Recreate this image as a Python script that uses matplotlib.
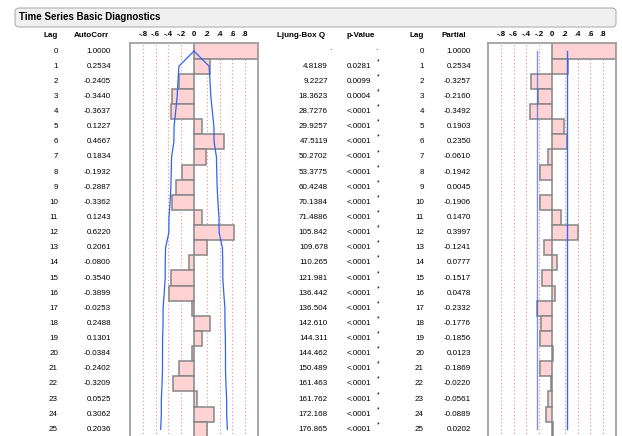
import matplotlib
matplotlib.use("Agg")
import matplotlib.pyplot as plt
import matplotlib.transforms as mtransforms
from matplotlib.patches import FancyBboxPatch
import numpy as np

plt.rcParams['font.family'] = ['Liberation Sans', 'DejaVu Sans']

lags = list(range(26))
autocorr = [1.0000, 0.2534, -0.2405, -0.3440, -0.3637, 0.1227, 0.4667, 0.1834,
            -0.1932, -0.2887, -0.3362, 0.1243, 0.6220, 0.2061, -0.0800, -0.3540,
            -0.3899, -0.0253, 0.2488, 0.1301, -0.0384, -0.2402, -0.3209, 0.0525,
            0.3062, 0.2036]
ljung_q = [".", "4.8189", "9.2227", "18.3623", "28.7276", "29.9257", "47.5119",
           "50.2702", "53.3775", "60.4248", "70.1384", "71.4886", "105.842",
           "109.678", "110.265", "121.981", "136.442", "136.504", "142.610",
           "144.311", "144.462", "150.489", "161.463", "161.762", "172.168",
           "176.865"]
p_value = ["."] + ["0.0281", "0.0099", "0.0004"] + ["<.0001"] * 22
partial = [1.0000, 0.2534, -0.3257, -0.2160, -0.3492, 0.1903, 0.2350, -0.0610,
           -0.1942, 0.0045, -0.1906, 0.1470, 0.3997, -0.1241, 0.0777, -0.1517,
           0.0478, -0.2332, -0.1776, -0.1856, 0.0123, -0.1869, -0.0220, -0.0561,
           -0.0889, 0.0202]
# 2-sigma limits shown as blue curves
acf_band = [0.0, 0.2357, 0.2504, 0.2629, 0.2868, 0.3114, 0.3141, 0.3505, 0.3558,
            0.3616, 0.3741, 0.3906, 0.3928, 0.4441, 0.4494, 0.4502, 0.4654,
            0.4832, 0.4833, 0.4904, 0.4923, 0.4924, 0.4989, 0.5102, 0.5105,
            0.5206]
pacf_band = 0.2357
tick_vals = [-0.8, -0.6, -0.4, -0.2, 0, 0.2, 0.4, 0.6, 0.8]
tick_text = ["-.8", "-.6", "-.4", "-.2", "0", ".2", ".4", ".6", ".8"]

W, H = 622, 436
fig = plt.figure(figsize=(W / 100, H / 100), dpi=100)

top_px = 43.5
row_px = 15.13
bot_frac = -0.05
n_rows = (H * (1 - bot_frac) - top_px) / row_px


def make_axes(x0, x1):
    ax = fig.add_axes([x0 / W, bot_frac, (x1 - x0) / W, 1 - top_px / H - bot_frac])
    ax.set_xlim(-1, 1)
    ax.set_ylim(n_rows - 0.5, -0.5)
    for s in ax.spines.values():
        s.set_color('#a0a0a0')
        s.set_linewidth(1.3)
    ax.spines['bottom'].set_visible(False)
    for v in tick_vals:
        if v != 0:
            ax.axvline(v, color='#f08a8a', lw=0.8, ls=(0, (1, 2.2)), zorder=0)
    ax.xaxis.tick_top()
    ax.set_xticks(tick_vals)
    ax.set_xticklabels(tick_text, fontsize=5.6, fontweight='bold')
    ax.tick_params(axis='x', length=0, pad=4)
    ax.set_yticks([])
    return ax


ax1 = make_axes(130, 258)
ax1.barh(lags, autocorr, height=1.0, color='#ffd3d3', edgecolor='#858585',
         linewidth=1.1, zorder=2)
ax1.plot(acf_band, lags, color='#2f62f5', lw=0.9, zorder=3)
ax1.plot([-b for b in acf_band], lags, color='#2f62f5', lw=0.9, zorder=3)

ax2 = make_axes(488, 616)
ax2.barh(lags, partial, height=1.0, color='#ffd3d3', edgecolor='#858585',
         linewidth=1.1, zorder=2)
ax2.plot([pacf_band] * len(lags), lags, color='#3a66f0', lw=1.0, zorder=3)
ax2.plot([-pacf_band] * len(lags), lags, color='#3a66f0', lw=1.0, alpha=0.7, zorder=3)

# title box
box = FancyBboxPatch((15 / W, 1 - 27 / H), 601 / W, 19 / H,
                     boxstyle="round,pad=0,rounding_size=0.008",
                     transform=fig.transFigure, facecolor='#f0f0f0',
                     edgecolor='#b0b0b0', lw=0.8)
fig.patches.append(box)
fig.text(19 / W, 1 - 17.5 / H, "Time Series Basic Diagnostics", fontsize=7,
         fontweight='bold', va='center', ha='left')

# table columns
tr = mtransforms.blended_transform_factory(fig.transFigure, ax1.transData)
hy = 1 - 35.5 / H
fs = 5.8
fig.text(57.5 / W, hy, "Lag", fontsize=fs, fontweight='bold', ha='right', va='center')
fig.text(109 / W, hy, "AutoCorr", fontsize=fs, fontweight='bold', ha='right', va='center')
fig.text(325 / W, hy, "Ljung-Box Q", fontsize=fs, fontweight='bold', ha='right', va='center')
fig.text(375 / W, hy, "p-Value", fontsize=fs, fontweight='bold', ha='right', va='center')
fig.text(424 / W, hy, "Lag", fontsize=fs, fontweight='bold', ha='right', va='center')
fig.text(466 / W, hy, "Partial", fontsize=fs, fontweight='bold', ha='right', va='center')

for k in lags:
    fig.text(58 / W, k, str(k), fontsize=fs, ha='right', va='center', transform=tr)
    fig.text(111 / W, k, f"{autocorr[k]:.4f}", fontsize=fs, ha='right', va='center', transform=tr)
    fig.text(424 / W, k, str(k), fontsize=fs, ha='right', va='center', transform=tr)
    fig.text(471 / W, k, f"{partial[k]:.4f}", fontsize=fs, ha='right', va='center', transform=tr)
    if k == 0:
        fig.text(332 / W, k - 0.2, ljung_q[k], fontsize=fs, ha='right', va='center', transform=tr)
        fig.text(378 / W, k - 0.2, p_value[k], fontsize=fs, ha='right', va='center', transform=tr)
    else:
        fig.text(328 / W, k, ljung_q[k], fontsize=fs, ha='right', va='center', transform=tr)
        fig.text(371 / W, k, p_value[k], fontsize=fs, ha='right', va='center', transform=tr)
        fig.text(376.5 / W, k - 0.3, "*", fontsize=5, ha='left', va='center', transform=tr)

fig.savefig("out.png", dpi=100)
